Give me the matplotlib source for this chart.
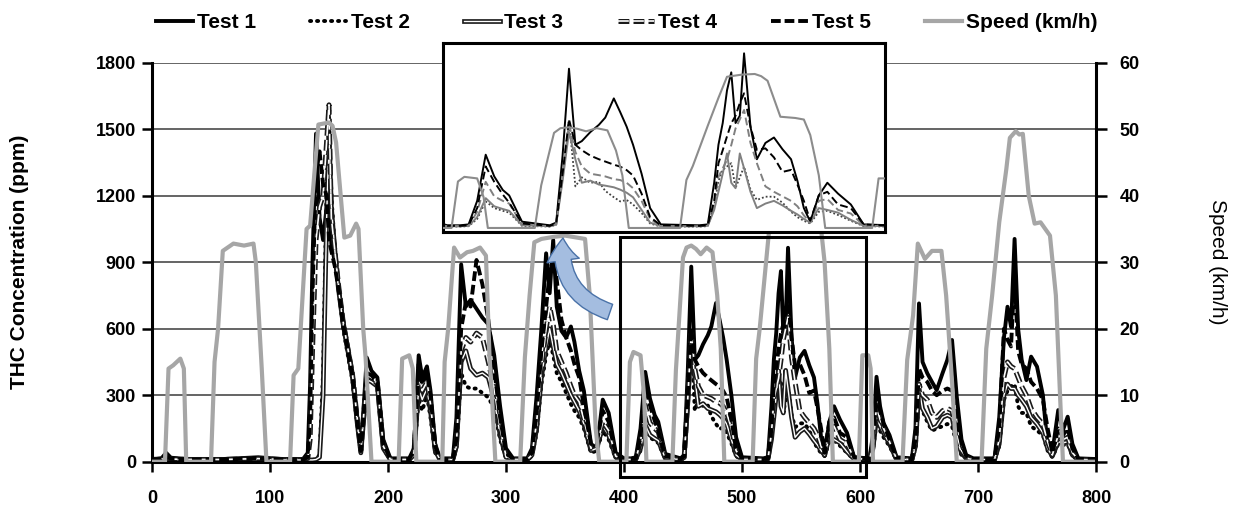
import matplotlib
matplotlib.use("Agg")
from matplotlib import pyplot as plt
from matplotlib import patheffects as pe
from matplotlib.patches import Rectangle, FancyArrowPatch

plt.rcParams['font.family'] = ['Liberation Sans', 'DejaVu Sans']
plt.rcParams['font.weight'] = 'bold'
plt.rcParams['axes.labelweight'] = 'bold'

# tiempo del ciclo (s), comun a los 5 ensayos
tiempo = [0, 8, 12, 16, 30, 60, 90, 110, 128,
          132, 134, 136, 139, 142, 145, 148, 150, 152, 155, 158, 162, 166, 170, 174, 177, 180, 182, 186, 191, 196, 202,
          218, 222, 226, 229, 233, 236, 240, 244,
          255, 258, 262, 266, 270, 275, 280, 285, 290, 295, 300, 306,
          318, 322, 326, 330, 334, 337, 340, 343, 347, 351, 355, 358, 362, 366, 372, 377, 382, 387, 393, 400,
          406, 410, 414, 418, 422, 426, 429, 435, 448, 451, 454, 457, 460, 463, 467, 471, 474, 478, 481, 484, 487, 491, 495, 500,
          518, 522, 525, 527, 529, 531, 533, 535, 537, 539, 542, 545, 549, 553, 557, 561, 564, 567, 570, 574, 578, 583, 589, 595,
          608, 611, 614, 617, 620, 625, 631, 644, 647, 650, 653, 657, 661, 665, 670, 674, 678, 682, 686, 690, 696,
          714, 718, 722, 725, 728, 731, 734, 737, 741, 745, 750, 755, 759, 763, 768, 772, 776, 780, 785, 800]

# concentracion de THC (ppm)
test1 = [10, 15, 40, 18, 12, 12, 20, 12, 12,
         40, 350, 900, 1480, 1100, 1000, 1150, 1200, 980, 900, 800, 640, 520, 400, 200, 60, 300, 470, 410, 380, 100, 15,
         15, 60, 480, 380, 430, 320, 80, 15,
         15, 200, 890, 700, 730, 690, 650, 620, 480, 250, 60, 15,
         15, 60, 300, 600, 940, 760, 1000, 700, 590, 560, 610, 540, 410, 320, 80, 60, 280, 220, 40, 15,
         15, 20, 150, 405, 285, 210, 180, 35, 15, 30, 400, 880, 460, 480, 530, 570, 610, 716, 640, 560, 460, 300, 110, 20,
         15, 20, 250, 460, 580, 760, 860, 580, 620, 965, 560, 380, 470, 500, 435, 380, 260, 110, 35, 180, 250, 190, 130, 20,
         15, 120, 383, 250, 174, 120, 20, 15, 150, 714, 450, 399, 360, 323, 400, 459, 549, 293, 100, 30, 15,
         15, 200, 560, 699, 609, 1005, 600, 460, 368, 474, 429, 300, 68, 40, 233, 143, 203, 80, 15, 12]
test2 = [8, 10, 15, 10, 8, 8, 10, 8, 8,
         8, 8, 8, 10, 30, 400, 1250, 1560, 1200, 960, 800, 600, 480, 360, 160, 40, 220, 360, 370, 340, 60, 8,
         8, 30, 280, 230, 300, 200, 40, 8,
         8, 60, 400, 340, 330, 330, 310, 290, 240, 100, 15, 8,
         8, 25, 130, 350, 480, 550, 480, 400, 360, 310, 260, 230, 200, 150, 40, 50, 140, 100, 15, 8,
         8, 10, 50, 147, 110, 95, 85, 12, 8, 18, 280, 597, 230, 280, 250, 255, 205, 170, 147, 155, 130, 83, 25, 8,
         8, 10, 120, 260, 321, 340, 358, 221, 280, 339, 212, 155, 173, 173, 140, 90, 60, 40, 25, 90, 95, 72, 40, 10,
         8, 50, 180, 140, 110, 70, 8, 8, 60, 300, 230, 180, 140, 150, 160, 170, 160, 80, 30, 12, 8,
         8, 70, 280, 320, 340, 350, 250, 220, 220, 160, 140, 120, 50, 20, 80, 75, 80, 25, 8, 6]
test3 = [8, 10, 12, 10, 8, 8, 10, 8, 8,
         8, 8, 8, 10, 20, 300, 1100, 1470, 1150, 950, 780, 620, 500, 380, 170, 40, 230, 370, 360, 340, 60, 10,
         10, 30, 330, 280, 330, 230, 50, 10,
         10, 70, 450, 500, 420, 390, 400, 380, 280, 120, 20, 10,
         10, 30, 150, 380, 520, 600, 520, 440, 400, 350, 300, 270, 230, 170, 50, 60, 160, 120, 20, 10,
         10, 12, 60, 165, 120, 105, 95, 15, 10, 20, 260, 530, 380, 250, 262, 240, 234, 225, 212, 195, 170, 100, 30, 10,
         10, 12, 100, 200, 300, 412, 250, 220, 412, 330, 200, 110, 135, 150, 125, 95, 75, 50, 30, 110, 100, 85, 45, 12,
         10, 60, 200, 160, 130, 80, 10, 10, 70, 330, 240, 200, 150, 160, 200, 210, 200, 100, 40, 15, 10,
         10, 80, 300, 350, 330, 330, 300, 280, 250, 200, 170, 130, 60, 25, 90, 85, 90, 30, 10, 8]
test4 = [10, 12, 18, 12, 10, 10, 14, 10, 10,
         15, 100, 500, 1000, 1150, 1200, 1450, 1610, 1100, 950, 800, 630, 510, 390, 190, 50, 250, 390, 380, 350, 70, 10,
         10, 40, 380, 320, 360, 260, 60, 10,
         10, 80, 500, 560, 540, 580, 560, 450, 330, 150, 25, 10,
         10, 30, 180, 420, 600, 700, 620, 500, 450, 400, 340, 300, 270, 190, 60, 70, 180, 140, 25, 10,
         10, 12, 90, 255, 175, 150, 135, 20, 10, 20, 280, 578, 420, 340, 300, 292, 285, 270, 265, 250, 220, 150, 50, 10,
         10, 12, 130, 283, 330, 376, 458, 550, 600, 652, 470, 358, 230, 200, 175, 150, 120, 70, 30, 150, 160, 100, 80, 15,
         10, 70, 250, 190, 150, 90, 12, 10, 80, 350, 300, 280, 220, 200, 230, 240, 230, 120, 50, 20, 10,
         10, 100, 380, 450, 430, 420, 380, 340, 300, 240, 200, 170, 90, 30, 120, 100, 110, 40, 10, 8]
test5 = [10, 12, 22, 14, 10, 10, 15, 10, 10,
         20, 200, 750, 1300, 1400, 1250, 1200, 1000, 950, 880, 780, 620, 500, 380, 180, 50, 260, 400, 390, 360, 80, 12,
         12, 50, 440, 350, 400, 300, 70, 12,
         12, 100, 600, 720, 700, 910, 800, 640, 420, 200, 40, 12,
         12, 40, 220, 500, 700, 850, 920, 820, 640, 560, 500, 440, 380, 250, 80, 90, 230, 180, 30, 12,
         12, 15, 110, 340, 255, 185, 140, 25, 12, 25, 300, 600, 460, 430, 400, 380, 367, 350, 339, 320, 290, 190, 60, 15,
         12, 15, 150, 358, 430, 506, 578, 620, 690, 744, 560, 431, 440, 390, 310, 321, 240, 150, 40, 180, 200, 130, 110, 20,
         12, 90, 300, 230, 170, 100, 15, 12, 100, 420, 380, 360, 320, 300, 320, 330, 320, 200, 80, 25, 12,
         12, 150, 600, 550, 520, 850, 500, 440, 420, 360, 330, 280, 150, 40, 150, 120, 150, 60, 12, 10]

# velocidad del vehiculo (km/h)
tiempo_vel = [0, 11, 14, 18, 24, 27, 29, 50, 53, 56, 60, 69, 78, 86, 88, 93, 97,
              117, 120, 124, 131, 134, 137, 141, 150, 153, 156, 163, 168, 173, 175, 179, 181, 186,
              209, 212, 218, 221, 224,
              246, 248, 251, 256, 261, 267, 272, 278, 283, 286, 288, 291,
              312, 316, 320, 324, 330, 340, 350, 360, 367, 371, 376, 379,
              402, 405, 408, 414, 417, 419,
              441, 444, 450, 453, 457, 461, 465, 470, 475, 479, 482, 485,
              509, 512, 515, 522, 527, 531, 538, 544, 547, 550, 556, 563, 567, 570, 574, 577,
              599, 602, 607, 609, 611,
              636, 640, 645, 649, 655, 661, 669, 673, 678, 682,
              703, 707, 712, 718, 724, 727, 732, 735, 738, 743, 748, 753, 757, 761, 766, 770, 772, 800]
velocidad = [0, 0, 14, 14.5, 15.5, 14, 0, 0, 15, 20, 31.7, 32.8, 32.5, 32.8, 30, 14, 0,
             0, 13, 14, 35, 35.5, 42, 50.7, 51, 50.5, 48, 33.7, 34, 35.8, 35, 20, 15.7, 0,
             0, 15.5, 16, 14, 0,
             0, 15, 20, 32.2, 30.7, 31.5, 31.7, 32.2, 31, 16, 10, 0,
             0, 15.7, 25, 33, 33.5, 33.8, 34, 33.7, 33.5, 25, 5, 0,
             0, 15, 16.5, 16, 10, 0,
             0, 13.8, 30.7, 32.2, 32.5, 32, 31.2, 32.2, 31.5, 25, 17, 0,
             0, 15.5, 20, 33, 42, 48.8, 49.5, 49.7, 49, 47.5, 35.9, 35.5, 35, 30, 17, 0,
             0, 16, 16, 14, 0,
             0, 15.3, 22, 32.8, 30.5, 31.7, 31.7, 25, 12, 0,
             0, 17, 25, 36, 44, 48.7, 49.7, 49.2, 49.3, 40, 35.8, 36, 35, 34, 25, 8, 0, 0]

nombres = ['Test 1', 'Test 2', 'Test 3', 'Test 4', 'Test 5']
ventana = (398, 605)   # tramo ampliado


def contorno(ancho, color='#1a1a1a'):
    return [pe.Stroke(linewidth=ancho, foreground=color), pe.Normal()]


def dibujar_principal(ax):
    lineas = []
    lineas += ax.plot(tiempo, test1, color='black', lw=2.8)
    lineas += ax.plot(tiempo, test2, color='black', lw=2.8, ls=(0, (0.3, 1.5)),
                      dash_capstyle='round')
    lineas += ax.plot(tiempo, test3, color='white', lw=1.0, path_effects=contorno(3.4))
    lineas += ax.plot(tiempo, test4, color='white', lw=1.2, ls=(0, (6.5, 2.5)),
                      path_effects=contorno(3.6))
    lineas += ax.plot(tiempo, test5, color='black', lw=2.8, ls=(0, (2.5, 1)))
    return lineas


def dibujar_ampliado(ax):
    ax.plot(tiempo, test1, color='black', lw=1.4)
    ax.plot(tiempo, test2, color='#404040', lw=1.3, ls=(0, (1, 1.2)))
    ax.plot(tiempo, test3, color='#808080', lw=1.4)
    ax.plot(tiempo, test4, color='#808080', lw=1.4, ls=(0, (4, 2)))
    ax.plot(tiempo, test5, color='black', lw=1.4, ls=(0, (4, 2)))


fig = plt.figure(figsize=(12.36, 5.22), dpi=100)
ax = fig.add_axes([152 / 1236, 1 - 461.7 / 522, 944 / 1236, 399 / 522])
ax.set_xlim(0, 800)
ax.set_ylim(0, 1800)
ax.set_xticks(range(0, 801, 100))
ax.set_yticks(range(0, 1801, 300))
ax.grid(axis='y', color='#3a3a3a', lw=1.1)
ax.set_axisbelow(True)
for lado in ['top', 'right']:
    ax.spines[lado].set_visible(False)
for lado in ['left', 'bottom']:
    ax.spines[lado].set_linewidth(2.2)
ax.tick_params(axis='x', direction='out', length=7.5, width=1.8, pad=13, labelsize=13)
ax.tick_params(axis='y', direction='out', length=7.5, width=1.8, pad=4, labelsize=13)
ax.set_ylabel('THC Concentration (ppm)', fontsize=15, va='center')
ax.yaxis.set_label_coords(-0.14, 0.5)

lineas = dibujar_principal(ax)

ax2 = ax.twinx()
ax2.set_ylim(0, 60)
ax2.set_yticks(range(0, 61, 10))
for lado in ['top', 'left', 'bottom']:
    ax2.spines[lado].set_visible(False)
ax2.spines['right'].set_linewidth(2.2)
ax2.tick_params(axis='y', direction='out', length=8, width=1.8, pad=9, labelsize=13)
lineas += ax2.plot(tiempo_vel, velocidad, color='#a6a6a6', lw=3)
ax2.set_ylabel('Speed (km/h)', fontsize=15, fontweight='normal', rotation=270, va='center')
ax2.yaxis.set_label_coords(1.129, 0.5)

fig.legend(lineas, nombres + ['Speed (km/h)'], loc='center', bbox_to_anchor=(0.507, 0.956),
           ncol=6, frameon=False, fontsize=15, handlelength=1.75, handletextpad=0.2,
           columnspacing=2.6)

# recuadro del tramo ampliado y flecha hacia el detalle
marco = Rectangle((ventana[0] - 1, -69), ventana[1] - ventana[0] + 1, 1082, transform=ax.transData,
                  fill=False, ec='black', lw=2.2, clip_on=False)
fig.add_artist(marco)
flecha = FancyArrowPatch((610 / 1236, 1 - 312 / 522), (563 / 1236, 1 - 238 / 522),
                         transform=fig.transFigure, connectionstyle='arc3,rad=-0.4',
                         arrowstyle='simple,head_length=0.9,head_width=1.3,tail_width=0.65',
                         mutation_scale=18, shrinkA=0, shrinkB=0,
                         fc='#a4bde0', ec='#4a72a8', lw=1)
fig.add_artist(flecha)

# detalle 400-600 s
axi = fig.add_axes([443 / 1236, 1 - 232 / 522, 442 / 1236, 189 / 522])
axi.set_xlim(*ventana)
axi.set_ylim(-22, 1022)
axi.set_xticks([])
axi.set_yticks([])
for s in axi.spines.values():
    s.set_linewidth(2.2)
dibujar_ampliado(axi)
axi2 = axi.twinx()
axi2.set_ylim(-1.3, 59.7)
axi2.set_yticks([])
for s in axi2.spines.values():
    s.set_visible(False)
axi2.plot(tiempo_vel, velocidad, color='#8c8c8c', lw=1.5)

fig.savefig('out.png', dpi=100)
